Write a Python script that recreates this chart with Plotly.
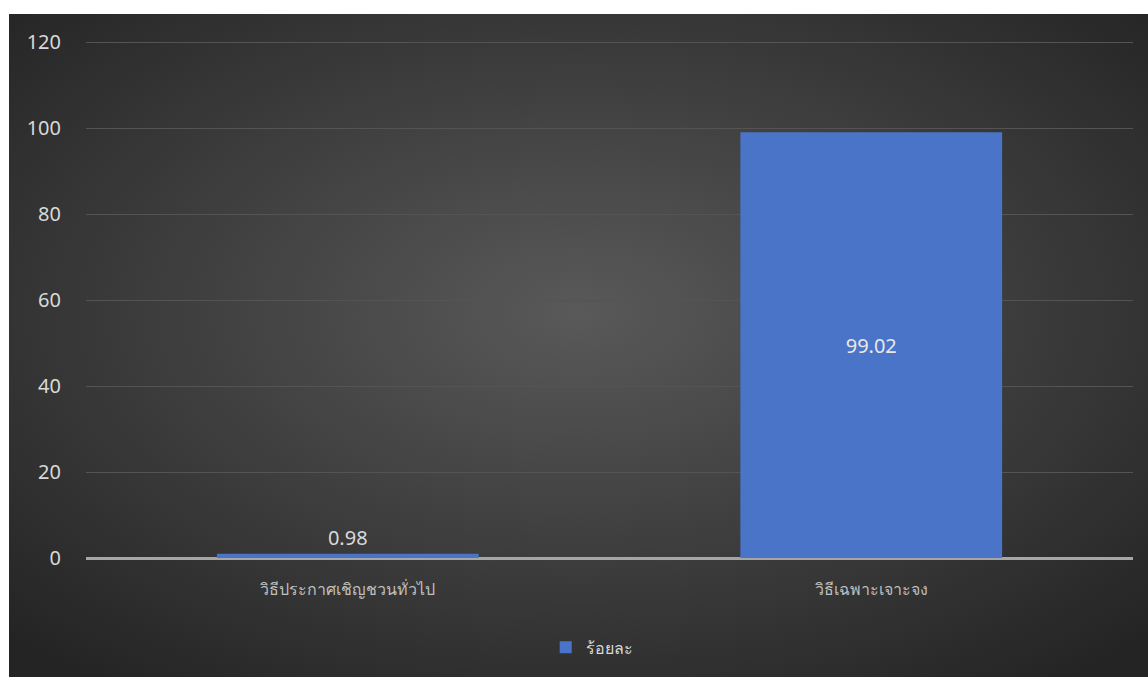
import base64
import plotly.graph_objects as go

categories = ["วิธีประกาศเชิญชวนทั่วไป", "วิธีเฉพาะเจาะจง"]
values = [0.98, 99.02]
value_labels = ["0.98", "99.02"]
series_name = "ร้อยละ"
y_ticks = [0, 20, 40, 60, 80, 100, 120]

W, H = 1148, 677
L, R, T, B = 86, 15, 40, 119
pw, ph = W - L - R, H - T - B

svg = (
    '<svg xmlns="http://www.w3.org/2000/svg" width="1139" height="663" preserveAspectRatio="none">'
    '<defs><radialGradient id="g" cx="50%" cy="45%" r="70%">'
    '<stop offset="0" stop-color="#595959"/>'
    '<stop offset="1" stop-color="#242424"/>'
    '</radialGradient></defs>'
    '<rect width="1139" height="663" fill="url(#g)"/></svg>'
)
src = "data:image/svg+xml;base64," + base64.b64encode(svg.encode()).decode()

x0 = (9 - L) / pw
x1 = (W - L) / pw
y_top = (H - B - 14) / ph
y_bot = (H - B - H) / ph

fig = go.Figure()
fig.add_trace(go.Bar(
    x=categories, y=values, name=series_name,
    marker=dict(color="#4a74c8", line=dict(width=0)),
    text=value_labels, textposition=["outside", "inside"],
    insidetextanchor="middle",
    textfont=dict(size=20, color="#d9d9d9"),
    outsidetextfont=dict(size=20, color="#d9d9d9"),
    insidetextfont=dict(size=20, color="#e8e8e8"),
    cliponaxis=False,
    showlegend=True,
))

fig.update_layout(
    width=W, height=H,
    margin=dict(l=L, r=R, t=T, b=B, pad=0),
    paper_bgcolor="white",
    plot_bgcolor="rgba(0,0,0,0)",
    font=dict(family="Noto Sans, sans-serif", color="#d9d9d9"),
    bargap=0.5,
    showlegend=True,
    legend=dict(orientation="h", x=0.483, xanchor="center", y=-0.1725, yanchor="middle",
                font=dict(size=16, color="#d9d9d9"), bgcolor="rgba(0,0,0,0)", itemwidth=30),
    images=[dict(source=src, xref="paper", yref="paper", x=x0, y=y_top,
                 sizex=x1 - x0, sizey=y_top - y_bot, xanchor="left", yanchor="top",
                 sizing="stretch", layer="below")],
    xaxis=dict(showgrid=False, showline=False, ticks="",
               tickfont=dict(size=16, color="#bfbfbf"), ticklabelstandoff=20),
    yaxis=dict(range=[0, 120.5], tickvals=y_ticks, showgrid=True, gridcolor="#545454",
               gridwidth=1, zeroline=True, zerolinecolor="#a6a6a6", zerolinewidth=3,
               showline=False, ticks="", tickfont=dict(size=20, color="#d9d9d9"),
               ticklabelstandoff=24),
)

fig.write_html("out.html")
